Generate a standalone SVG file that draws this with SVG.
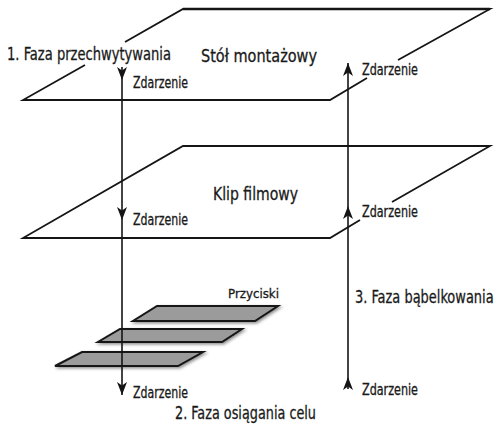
<svg xmlns="http://www.w3.org/2000/svg" width="500" height="433" viewBox="0 0 500 433">
<style>
  .plane { fill: none; stroke: #151515; stroke-width: 1.8; stroke-linejoin: miter; }
  .btn { fill: #9b9b9b; stroke: #151515; stroke-width: 2; filter: url(#sh); }
  .conn { fill: none; stroke: #151515; stroke-width: 1.6; marker-mid: url(#ah); marker-end: url(#ah); }
  text { font-family: "DejaVu Sans Condensed", "DejaVu Sans", sans-serif; font-stretch: condensed; fill: #1a1a1a; stroke: #1a1a1a; stroke-width: 0.3; }
  .big { font-size: 18.5px; }
  .ev { font-size: 15px; }
  .sm { font-size: 13px; }
</style>
<defs>
  <marker id="ah" viewBox="0 -5.5 13 11" refX="13" refY="0" markerWidth="13" markerHeight="11" markerUnits="userSpaceOnUse" orient="auto">
    <path d="M0,-5 L13,0 L0,5 L3.5,0 Z" fill="#151515"/>
  </marker>
  <filter id="sh" x="-10%" y="-30%" width="130%" height="180%">
    <feDropShadow dx="1.5" dy="1.5" stdDeviation="1.4" flood-color="#000" flood-opacity="0.45"/>
  </filter>
</defs>

<g id="stol">
  <path class="plane" d="M125,42 L183,9 H490 L398,60"/>
  <path class="plane" d="M367,78 L330,100 H23 L85,65"/>
  <path d="M183,9 H490" fill="none" stroke="#151515" stroke-width="2.6"/>
  <text class="big" x="201" y="62" textLength="116" lengthAdjust="spacingAndGlyphs">Stół montażowy</text>
</g>

<g id="klip">
  <path class="plane" d="M360,220 L330,238 H23 L183,146 H490 L392,202"/>
  <text class="big" x="213" y="200" textLength="85" lengthAdjust="spacingAndGlyphs">Klip filmowy</text>
</g>

<g id="przyciski">
  <polygon class="btn" points="157,306 278,306 255,321 133,321"/>
  <polygon class="btn" points="120,329 242,329 222,342 98,342"/>
  <polygon class="btn" points="82,352 203,352 178,366 55,366"/>
  <text class="sm" x="228" y="298" textLength="51" lengthAdjust="spacingAndGlyphs">Przyciski</text>
</g>

<g id="connectors">
  <path class="conn" d="M122,67 V80 V220 V395"/>
  <path class="conn" d="M348,389 V377 V206 V63"/>
</g>

<g id="labels">
  <text class="big" x="7" y="60" textLength="164" lengthAdjust="spacingAndGlyphs">1. Faza przechwytywania</text>
  <text class="big" transform="translate(355,303) scale(0.77,1)" x="0" y="0" textLength="180" lengthAdjust="spacingAndGlyphs">3. Faza bąbelkowania</text>
  <text class="big" x="175" y="419" textLength="141" lengthAdjust="spacingAndGlyphs">2. Faza osiągania celu</text>
  <text class="ev" x="133" y="88" textLength="55" lengthAdjust="spacingAndGlyphs">Zdarzenie</text>
  <text class="ev" x="362" y="75" textLength="56" lengthAdjust="spacingAndGlyphs">Zdarzenie</text>
  <text class="ev" x="133" y="225" textLength="55" lengthAdjust="spacingAndGlyphs">Zdarzenie</text>
  <text class="ev" x="362" y="217" textLength="56" lengthAdjust="spacingAndGlyphs">Zdarzenie</text>
  <text class="ev" x="133" y="398" textLength="55" lengthAdjust="spacingAndGlyphs">Zdarzenie</text>
  <text class="ev" x="362" y="395" textLength="56" lengthAdjust="spacingAndGlyphs">Zdarzenie</text>
</g>
</svg>
